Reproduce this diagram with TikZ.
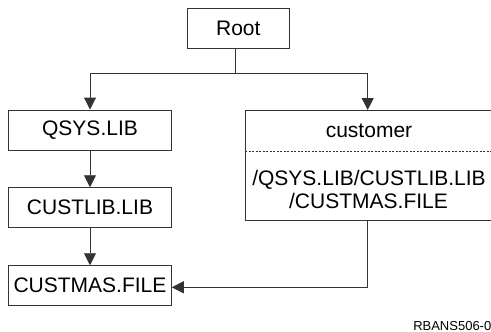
\documentclass[tikz,border=0pt]{standalone}
\usepackage{fontspec}
\setmainfont{Liberation Sans}
\usetikzlibrary{arrows.meta}
\begin{document}
\begin{tikzpicture}[x=1pt,y=-1pt,
  line/.style={draw=black!80,line width=0.9pt},
  box/.style={line, rectangle, inner sep=0pt, font=\fontsize{21}{23}\selectfont, text=black},
  conn/.style={line, -{Triangle[length=12pt,width=12pt]}},
  lbl/.style={font=\fontsize{21}{23.3}\selectfont, inner sep=0pt, text=black},
  small/.style={font=\fontsize{13}{15}\selectfont, inner sep=0pt, text=black}
]
\useasboundingbox (0,0) rectangle (491,332);
\node[box, minimum width=102pt, minimum height=40pt] (root) at (238.3,28.3) {Root};
\node[box, minimum width=162.6pt, minimum height=40pt] (qsys) at (90,130) {QSYS.LIB};
\node[box, minimum width=162.6pt, minimum height=40pt] (custlib) at (90,207.7) {CUSTLIB.LIB};
\node[box, minimum width=162.6pt, minimum height=40pt] (custmas) at (90,285.7) {CUSTMAS.FILE};
\node[box, minimum width=252pt, minimum height=110.3pt] (cust) at (371,165.15) {};
\coordinate (dl) at (245,151);
\coordinate (dr) at (497,151);
\draw[draw=black!80, line width=0.6pt, dash pattern=on 2pt off 1.5pt] (dl) -- (dr);
\node[lbl, anchor=base] (cname) at (369,137.3) {customer};
\node[lbl, anchor=base] (cpath1) at (369,185) {/QSYS.LIB/CUSTLIB.LIB};
\node[lbl, anchor=base] (cpath2) at (368.5,208.3) {/CUSTMAS.FILE};
\coordinate (j) at (235.3,73);
\coordinate (ctop) at (367.7,110);
\coordinate (cbot) at (367.7,220.3);
\draw[line] ([xshift=-3pt]root.south) -- (j);
\draw[conn] (j) -| (qsys.north);
\draw[conn] (j) -| (ctop);
\draw[conn] (qsys) -- (custlib);
\draw[conn] (custlib) -- (custmas);
\draw[conn] (cbot) |- ([yshift=-1.6pt]custmas.east);
\node[small, anchor=base east] (ref) at (491.5,330) {RBANS506-0};
\end{tikzpicture}
\end{document}
